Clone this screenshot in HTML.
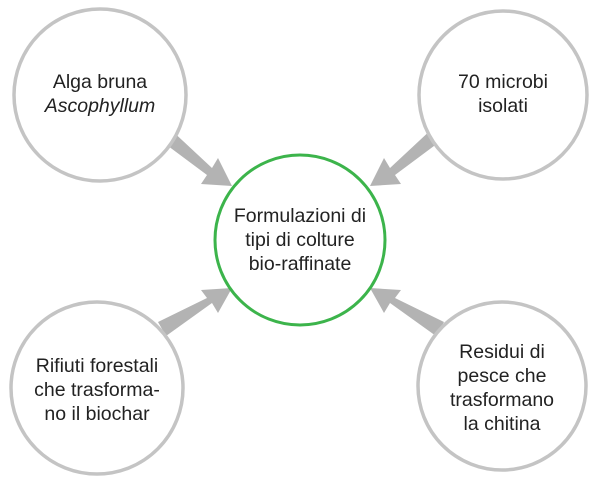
<!DOCTYPE html>
<html><head><style>
body{margin:0;background:#fff;width:600px;height:480px;overflow:hidden}
svg text{font-family:"Liberation Sans",sans-serif;font-size:19.5px;fill:#222;text-anchor:middle}
</style></head><body>
<svg width="600" height="480" viewBox="0 0 600 480">
<g fill="#b3b3b3">
<polygon points="160,140 168,127 212,168 218,158 232,186 201,184 207,175"/>
<polygon points="442,140 434,127 390,168 384,158 370,186 401,184 395,175"/>
<polygon points="158,322 166,336 212,303 218,313 232,288 201,290 207,298"/>
<polygon points="444,322 436,336 390,303 384,313 370,288 401,290 395,298"/>
</g>
<g fill="#fff" stroke="#c4c4c4" stroke-width="3.5">
<circle cx="100" cy="95" r="86"/>
<circle cx="503" cy="95" r="84"/>
<circle cx="97" cy="388" r="86"/>
<circle cx="502" cy="386" r="84"/>
</g>
<circle cx="300" cy="240" r="85" fill="#fff" stroke="#3cb44b" stroke-width="3"/>
<text x="100" y="88">Alga bruna</text>
<text x="100" y="112" font-style="italic">Ascophyllum</text>
<text x="503" y="88">70 microbi</text>
<text x="503" y="112">isolati</text>
<text x="300" y="222">Formulazioni di</text>
<text x="300" y="246">tipi di colture</text>
<text x="300" y="270">bio-raffinate</text>
<text x="97" y="372">Rifiuti forestali</text>
<text x="97" y="396">che trasforma-</text>
<text x="97" y="420">no il biochar</text>
<text x="502" y="358">Residui di</text>
<text x="502" y="382">pesce che</text>
<text x="502" y="406">trasformano</text>
<text x="502" y="430">la chitina</text>
</svg>
</body></html>
